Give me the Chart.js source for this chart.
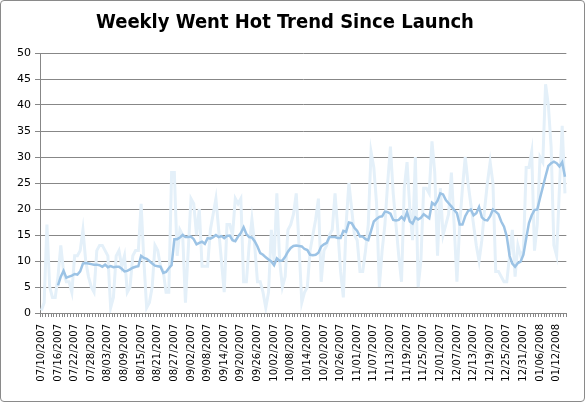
<!DOCTYPE html>
<html>
<head>
<meta charset="utf-8">
<script src="https://cdn.jsdelivr.net/npm/chart.js@4.4.0/dist/chart.umd.min.js"></script>
<style>
  html, body { margin: 0; padding: 0; background: #fff; }
  #box {
    width: 585px; height: 402px; box-sizing: border-box;
    border: 1px solid #8a8a8a; border-radius: 4px; background: #fff;
  }
  #box canvas { display: block; }
</style>
</head>
<body>
<div id="box"><canvas id="chart-hot" width="583" height="400"></canvas></div>
<script>
// Dados (um ponto por dia, a partir de 07/10/2007)
const startDate = "2007-07-10";

const rawHot = [
  0.5, 2, 17, 5, 3, 3, 7, 13, 8, 6,
  6, 4, 11, 11, 12, 16, 10, 7, 5, 4,
  12, 13, 13, 12, 11, 1, 3, 11, 12, 9,
  11, 4, 5, 11, 12, 12, 21, 10, 1, 2,
  5, 13, 12, 9, 8, 4, 4, 27, 27, 11,
  16, 15, 2, 12, 22, 21, 15, 20, 9, 9,
  9, 16, 19, 22, 16, 10, 4, 17, 17, 15,
  22, 21, 22, 6, 6, 13, 18, 13, 6, 6,
  4, 1, 4, 16, 10, 23, 10, 5, 7, 16,
  17, 19, 23, 13, 2, 4, 5, 12, 15, 18,
  22, 6, 12, 13, 15, 16, 23, 16, 8, 3,
  17, 25, 20, 15, 14, 8, 8, 12, 17, 31,
  28, 21, 5, 12, 17, 25, 32, 23, 17, 11,
  6, 24, 29, 20, 14, 30, 5, 10, 24, 24,
  23, 33, 27, 11, 24, 15, 17, 19, 27, 17,
  6, 17, 24, 30, 25, 21, 17, 13, 10, 14,
  20, 25, 29, 25, 8, 8, 7, 6, 6, 11,
  16, 7, 13, 11, 12, 28, 28, 31, 12, 17,
  30, 29, 44, 40, 32, 13, 11, 24, 36, 23
];

const avgHot = [
  null, null, null, null, null, null, 5.3, 7.0, 8.1, 6.8,
  7.0, 7.2, 7.5, 7.4, 8.0, 9.5, 9.6, 9.5, 9.4, 9.3,
  9.3, 9.2, 8.9, 9.3, 8.8, 9.0, 8.8, 8.9, 8.9, 8.5,
  8.0, 8.1, 8.4, 8.7, 8.9, 9.0, 11.0, 10.6, 10.4, 10.0,
  9.5, 9.1, 9.0, 8.9, 7.7, 7.9, 8.6, 9.2, 14.2, 14.2,
  14.5, 15.0, 14.6, 14.6, 14.7, 14.2, 13.2, 13.5, 13.7, 13.3,
  14.4, 14.3, 14.6, 15.0, 14.6, 14.8, 14.4, 14.8, 14.9, 14.0,
  13.8, 14.7, 15.4, 16.5, 15.2, 14.6, 14.5, 13.8, 12.8, 11.5,
  11.2, 10.7, 10.3, 9.9, 9.2, 10.5, 10.0, 10.1, 10.8, 11.8,
  12.5, 12.9, 13.0, 12.9, 12.8, 12.3, 12.1, 11.2, 11.1, 11.2,
  11.6, 12.8, 13.2, 13.5, 14.6, 14.6, 14.6, 14.4, 14.4, 15.8,
  15.6, 17.4, 17.3, 16.4, 15.8, 14.7, 14.7, 14.2, 14.0, 15.8,
  17.6, 18.1, 18.5, 18.6, 19.5, 19.4, 19.1, 17.9, 17.8, 17.9,
  18.5, 17.9, 19.4, 17.6, 17.2, 18.4, 18.0, 18.3, 19.0, 18.6,
  18.2, 21.2, 20.8, 21.6, 23.0, 22.8, 21.7, 21.1, 20.5, 19.8,
  19.2, 17.0, 17.0, 18.6, 19.6, 19.9, 18.8, 19.2, 20.4, 18.4,
  17.9, 17.8, 18.6, 19.9, 19.5, 19.0, 17.6, 16.6, 14.7, 11.0,
  9.5, 8.9, 9.6, 9.9, 11.2, 14.3, 17.3, 18.8, 19.8, 19.9,
  22.1, 24.2, 26.3, 28.3, 28.8, 29.1, 28.8, 28.2, 29.0, 26.2
];

const yTicks = [0, 5, 10, 15, 20, 25, 30, 35, 40, 45, 50];
const labelEvery = 6;

function formatDate(d) {
  const dd = String(d.getDate()).padStart(2, "0");
  const mm = String(d.getMonth() + 1).padStart(2, "0");
  return `${mm}/${dd}/${d.getFullYear()}`;
}

// rótulos: um por dia
const labels = rawHot.map((_, i) => {
  const d = new Date(startDate + "T12:00:00");
  d.setDate(d.getDate() + i);
  return formatDate(d);
});

const yFont = { family: "'DejaVu Sans', Verdana, sans-serif", size: 11 };
const xFont = { family: "'DejaVu Sans', Verdana, sans-serif", size: 10 };
const gridColor = "#878787";

const ctx = document.getElementById("chart-hot").getContext("2d");
new Chart(ctx, {
  type: "line",
  data: {
    labels: labels,
    datasets: [
      {
        label: "Média 7 dias",
        data: avgHot,
        borderColor: "#9cc3e5",
        borderWidth: 2.5,
        pointRadius: 0,
        tension: 0,
        order: 0,
      },
      {
        label: "Went Hot",
        data: rawHot,
        borderColor: "#e4f0f9",
        borderWidth: 3,
        pointRadius: 0,
        tension: 0,
        order: 1,
      },
    ],
  },
  options: {
    responsive: false,
    animation: false,
    layout: { padding: { left: 0, right: 15, top: 0, bottom: 0 } },
    plugins: {
      legend: { display: false },
      tooltip: { enabled: false },
      title: {
        display: true,
        text: "Weekly Went Hot Trend Since Launch",
        color: "#000",
        font: { family: "'DejaVu Sans Condensed', 'DejaVu Sans', sans-serif", size: 20, weight: "bold" },
        padding: { top: 10, bottom: 18 },
      },
    },
    scales: {
      x: {
        offset: true,
        grid: {
          offset: true,
          drawOnChartArea: false,
          drawTicks: true,
          tickLength: 4,
          color: gridColor,
        },
        border: { color: gridColor },
        ticks: {
          autoSkip: false,
          maxRotation: 90,
          minRotation: 90,
          padding: 7,
          color: "#000",
          font: xFont,
          callback: function (value, index) {
            return index % labelEvery === 0 ? this.getLabelForValue(value) : "";
          },
        },
        afterFit: (scale) => { scale.height = 88; },
      },
      y: {
        min: yTicks[0],
        max: yTicks[yTicks.length - 1],
        afterBuildTicks: (scale) => { scale.ticks = yTicks.map((v) => ({ value: v })); },
        grid: { color: gridColor, tickLength: 5 },
        border: { color: gridColor },
        ticks: { color: "#000", font: yFont, padding: 4 },
        afterFit: (scale) => { scale.width = 39; },
      },
    },
  },
});
</script>
</body>
</html>
